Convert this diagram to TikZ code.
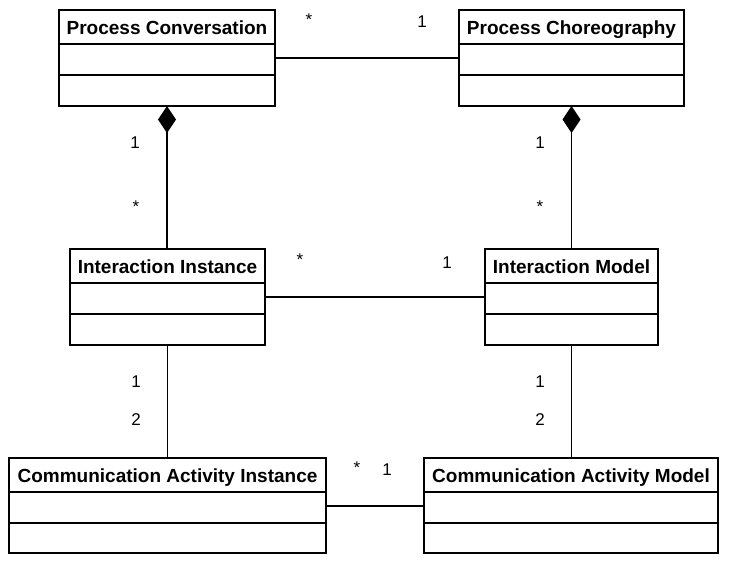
\documentclass[tikz,border=0pt]{standalone}
\usepackage{fontspec}
\setmainfont{Liberation Sans}
\usetikzlibrary{arrows.meta}
\newcommand\umlclass[6]{%
  \node[cls, minimum width=#4-#2, minimum height=#5-#3] (#1) at ({(#2+#4)/2},{(#3+#5)/2}) {};
  \draw[divider] (#2,#3+34) -- (#4,#3+34) (#2,#3+65) -- (#4,#3+65);
  \node[title, anchor=base] (#1-t) at ({(#2+#4)/2},{#3+24}) {#6};
}
\begin{document}
\begin{tikzpicture}[x=1pt,y=-1pt,
  cls/.style={draw, line width=1.8pt, inner sep=0pt, outer sep=0pt},
  divider/.style={line width=1.8pt},
  title/.style={font=\fontsize{19}{21}\selectfont\bfseries, inner sep=0pt},
  mult/.style={font=\fontsize{17}{19}\selectfont, inner sep=0pt},
  assoc/.style={line width=1.4pt},
  compo/.style={assoc, {Diamond[length=27pt 0 0, width=18pt 0 0]}-}]
\useasboundingbox[fill=white] (0,0) rectangle (731,563);

\umlclass{pc}{59}{10}{275}{106}{Process Conversation}
\umlclass{pch}{459}{10}{684}{106}{Process Choreography}
\umlclass{ii}{70}{249}{265}{345}{Interaction Instance}
\umlclass{im}{485}{249}{658}{345}{Interaction Model}
\umlclass{cai}{9}{458}{326}{553}{Communication Activity Instance}
\umlclass{cam}{424}{458}{718}{553}{Communication Activity Model}

\draw[assoc] (pc.east |- 0,58) -- (pch.west |- 0,58);
\draw[assoc] (ii.east |- 0,297) -- (im.west |- 0,297);
\draw[assoc] (cai.east |- 0,506) -- (cam.west |- 0,506);
\draw[compo] (pc.south) -- (ii.north -| pc.south);
\draw[compo] (pch.south) -- (im.north -| pch.south);
\draw[assoc] (ii.south) -- (cai.north -| ii.south);
\draw[assoc] (im.south) -- (cam.north -| im.south);

\node[mult] (m1) at (309,20) {*};
\node[mult] (m2) at (422,22) {1};
\node[mult] (m3) at (135,143) {1};
\node[mult] (m4) at (136,207) {*};
\node[mult] (m5) at (540,143) {1};
\node[mult] (m6) at (540,207) {*};
\node[mult] (m7) at (300,260) {*};
\node[mult] (m8) at (447,263) {1};
\node[mult] (m9) at (136,382) {1};
\node[mult] (m10) at (136,420) {2};
\node[mult] (m11) at (540,382) {1};
\node[mult] (m12) at (540,420) {2};
\node[mult] (m13) at (357,468) {*};
\node[mult] (m14) at (387,470) {1};
\end{tikzpicture}
\end{document}
